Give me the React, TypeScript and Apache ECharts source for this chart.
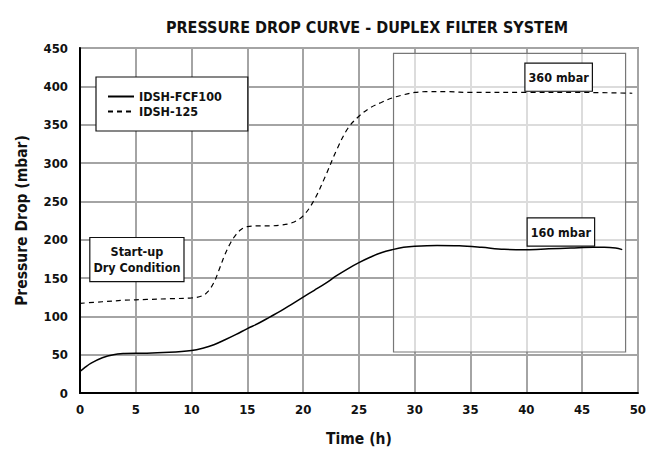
import React, { useEffect, useRef } from "react";
import * as echarts from "echarts";

const FONT = "'DejaVu Sans Condensed', 'Liberation Sans Narrow', sans-serif";

const TITLE = "PRESSURE DROP CURVE - DUPLEX FILTER SYSTEM";
const X_NAME = "Time (h)";
const Y_NAME = "Pressure Drop (mbar)";

const SERIES_A_NAME = "IDSH-FCF100";
const timeA = [0, 0.5, 1, 2, 3, 4, 5, 6, 8, 10, 11, 12, 13, 14, 15, 16, 17, 18, 19, 20, 21, 22, 23, 24, 25, 26, 27, 28, 29, 30, 32, 34, 36, 38, 40, 42, 44, 46, 47, 48, 48.6];
const valuesA = [28, 34, 39, 46, 50, 51.5, 52, 52, 53, 55.5, 58.5, 63, 69.5, 76.5, 84, 91, 99, 107, 116, 125, 134, 143, 153, 162, 170, 177, 183, 187, 190, 191.5, 192.5, 192, 190, 187.5, 187, 188, 189, 190, 190, 189, 187];

const SERIES_B_NAME = "IDSH-125";
const timeB = [0, 2, 4, 6, 8, 10, 11, 11.5, 12, 12.5, 13, 13.5, 14, 14.5, 15, 16, 17, 18, 19, 20, 21, 22, 23, 24, 25, 26, 27, 28, 29, 30, 31, 33, 35, 40, 45, 49.5];
const valuesB = [117, 119, 121, 122, 123, 124, 127, 133, 144, 162, 181, 196, 207, 214, 217, 218, 218, 219, 222, 231, 252, 283, 317, 345, 361, 372, 379, 385, 389, 392, 393, 393, 392, 392, 392, 391];

const annotLabels = ["360 mbar", "160 mbar", "Start-up\nDry Condition"];
const annotX = [42.9, 43.1, 5.1];
const annotY = [412, 210, 174];

const zoneX = [28.1, 48.9];
const zoneY = [53.5, 443];

export default function App() {
  const ref = useRef<HTMLDivElement>(null);
  useEffect(() => {
    if (!ref.current) return;
    const chart = echarts.init(ref.current, undefined, { renderer: "svg" });
    const dataA = timeA.map((t, i) => [t, valuesA[i]]);
    const dataB = timeB.map((t, i) => [t, valuesB[i]]);
    const axisLabel = { color: "#111", fontFamily: FONT, fontWeight: "bold", fontSize: 13 };
    chart.setOption({
      animation: false,
      backgroundColor: "#fff",
      title: {
        text: TITLE,
        left: 362,
        top: 14,
        textAlign: "center",
        textStyle: { fontFamily: FONT, fontWeight: "bold", fontSize: 16, color: "#111" },
      },
      legend: {
        data: [SERIES_A_NAME, SERIES_B_NAME],
        orient: "vertical",
        left: 96,
        top: 77,
        backgroundColor: "#fff",
        borderColor: "#111",
        borderWidth: 1.2,
        borderRadius: 0,
        padding: [13, 26, 13, 11],
        itemGap: 2,
        itemWidth: 26,
        itemHeight: 14,
        itemStyle: { opacity: 0 },
        textStyle: { fontFamily: FONT, fontWeight: "bold", fontSize: 12.5, color: "#111" },
      },
      grid: {
        left: 80,
        right: 7,
        top: 48,
        bottom: 64,
        show: true,
        borderColor: "#222",
        borderWidth: 1.5,
      },
      xAxis: {
        type: "value",
        min: 0,
        max: 50,
        interval: 5,
        name: X_NAME,
        nameLocation: "middle",
        nameGap: 38,
        nameTextStyle: { fontFamily: FONT, fontWeight: "bold", fontSize: 15.5, color: "#111" },
        axisLine: { show: true, lineStyle: { color: "#000", width: 2 } },
        axisTick: { show: false },
        axisLabel: { ...axisLabel, margin: 10 },
        splitLine: { show: true, lineStyle: { color: "#a4a4a4", width: 2 } },
      },
      yAxis: {
        type: "value",
        min: 0,
        max: 450,
        interval: 50,
        name: Y_NAME,
        nameLocation: "middle",
        nameGap: 50,
        nameTextStyle: { fontFamily: FONT, fontWeight: "bold", fontSize: 15.5, color: "#111" },
        axisLine: { show: true, lineStyle: { color: "#000", width: 2 } },
        axisTick: { show: false },
        axisLabel: { ...axisLabel, margin: 12 },
        splitLine: { show: true, lineStyle: { color: "#a4a4a4", width: 2 } },
      },
      series: [
        {
          name: "zone",
          type: "line",
          data: [],
          z: 1,
          silent: true,
          markArea: {
            silent: true,
            itemStyle: { color: "rgba(255,255,255,0.62)", borderColor: "#777", borderWidth: 1.2 },
            data: [[{ xAxis: zoneX[0], yAxis: zoneY[0] }, { xAxis: zoneX[1], yAxis: zoneY[1] }]],
          },
        },
        {
          name: SERIES_A_NAME,
          type: "line",
          data: dataA,
          smooth: 0.35,
          symbol: "none",
          z: 3,
          color: "#000",
          lineStyle: { color: "#000", width: 1.5, type: "solid" },
          markPoint: {
            silent: true,
            symbol: "rect",
            symbolSize: 1,
            itemStyle: { color: "rgba(0,0,0,0)" },
            label: {
              show: true,
              position: "inside",
              fontFamily: FONT,
              fontWeight: "bold",
              fontSize: 12.5,
              lineHeight: 16,
              color: "#111",
              backgroundColor: "#fff",
              borderColor: "#111",
              borderWidth: 1.2,
              padding: [6, 3, 5, 3],
              align: "center",
              formatter: (p: any) => p.name,
            },
            data: annotLabels.map((l, i) => ({ name: l, coord: [annotX[i], annotY[i]] })),
          },
        },
        {
          name: SERIES_B_NAME,
          type: "line",
          data: dataB,
          smooth: 0.35,
          symbol: "none",
          z: 2,
          color: "#000",
          lineStyle: { color: "#000", width: 1.2, type: [5, 4] },
        },
      ],
    });
    return () => chart.dispose();
  }, []);
  return <div ref={ref} style={{ position: "fixed", left: 0, top: 0, width: 649, height: 457 }} />;
}
